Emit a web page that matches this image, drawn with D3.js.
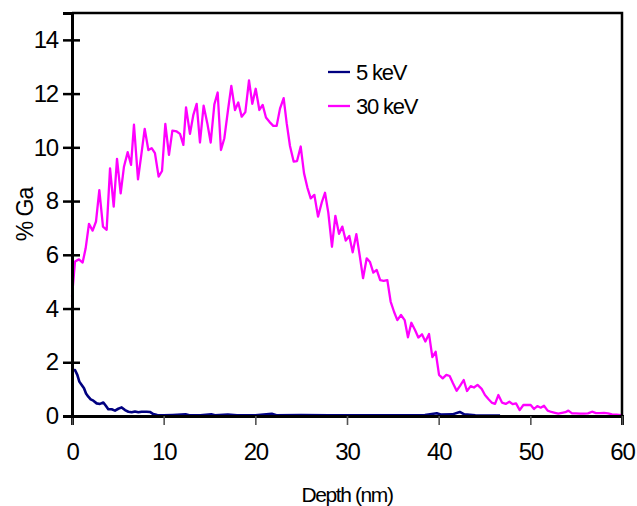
<!DOCTYPE html>
<html>
<head>
<meta charset="utf-8">
<script src="https://cdn.jsdelivr.net/npm/d3@7"></script>
<style>
  body { margin: 0; background: #fff; }
  svg text { font-family: "Liberation Sans", Arial, sans-serif; fill: #000; }
</style>
</head>
<body>
<svg id="chart"></svg>
<script>
// tick values
const xTicks = [0, 10, 20, 30, 40, 50, 60]
const yTicks = [0, 2, 4, 6, 8, 10, 12, 14]
const seriesNames = ["5 keV", "30 keV"]
const seriesColors = ["#000080", "#ff00ff"]

// 5 keV profile [depth nm, % Ga]
const ga5 = [
  [0.07, 1.69], [0.33, 1.71], [0.58, 1.53], [0.8, 1.28], [1.06, 1.15], [1.31, 1.03],
  [1.53, 0.84], [1.78, 0.72], [2.04, 0.62], [2.33, 0.57], [2.69, 0.47], [3.05, 0.45],
  [3.42, 0.5], [3.71, 0.37], [3.96, 0.25], [4.33, 0.25], [4.69, 0.2], [5.05, 0.27],
  [5.42, 0.32], [5.78, 0.22], [6.15, 0.16], [6.51, 0.14], [6.87, 0.17], [7.24, 0.14],
  [7.6, 0.16], [8.15, 0.16], [8.5, 0.15], [8.87, 0.07], [9.3, 0.04], [10, 0.03],
  [11, 0.04], [12.4, 0.06], [12.8, 0.03], [14, 0.03], [15.2, 0.06], [15.6, 0.03],
  [17, 0.05], [18, 0.03], [20, 0.03], [21.8, 0.08], [22.3, 0.03], [25, 0.04],
  [28, 0.03], [31, 0.03], [34, 0.03], [37, 0.03], [38.5, 0.04], [39.8, 0.1],
  [40.3, 0.05], [41.5, 0.06], [42.3, 0.15], [42.8, 0.06], [44, 0.03], [45.5, 0.02],
  [46.7, 0.02]
]

// 30 keV profile [depth nm, % Ga]
const ga30 = [
  [0, 4.44], [0.33, 5.75], [0.76, 5.83], [1.16, 5.71], [1.49, 6.24], [1.85, 7.15],
  [2.25, 6.9], [2.62, 7.24], [2.98, 8.41], [3.38, 7.05], [3.78, 6.93], [4.15, 9.22],
  [4.55, 7.79], [4.91, 9.57], [5.31, 8.29], [5.67, 9.28], [6.07, 9.82], [6.44, 9.35],
  [6.76, 10.84], [7.2, 8.81], [7.56, 9.72], [7.93, 10.69], [8.33, 9.9], [8.69, 9.97],
  [9.05, 9.78], [9.45, 8.91], [9.82, 9.12], [10.18, 10.87], [10.58, 9.72], [10.95, 10.62],
  [11.42, 10.59], [11.78, 10.5], [12.15, 10.09], [12.44, 11.49], [12.87, 10.5], [13.24, 11.21],
  [13.6, 11.62], [13.96, 10.18], [14.36, 11.55], [14.76, 10.9], [15.13, 10.18], [15.53, 11.6],
  [15.89, 12.04], [16.25, 9.9], [16.62, 10.34], [17.02, 11.39], [17.38, 12.29], [17.78, 11.39],
  [18.14, 11.67], [18.51, 11.14], [18.91, 11.31], [19.31, 12.49], [19.67, 11.62], [20.04, 12.18],
  [20.44, 11.39], [20.8, 11.58], [21.16, 11.11], [21.56, 10.94], [21.96, 10.8], [22.33, 10.8],
  [22.69, 11.44], [23.09, 11.83], [23.42, 10.9], [23.78, 10.05], [24.18, 9.47], [24.55, 9.49],
  [24.95, 10.03], [25.31, 9.04], [25.67, 8.51], [26.04, 8.1], [26.44, 8.23], [26.84, 7.42],
  [27.24, 7.94], [27.6, 8.31], [27.96, 7.57], [28.36, 6.3], [28.73, 7.45], [29.13, 6.78],
  [29.49, 7.05], [29.86, 6.53], [30.25, 6.7], [30.62, 6.09], [31.02, 6.77], [31.38, 5.99],
  [31.75, 5.13], [32.15, 5.87], [32.51, 5.73], [32.87, 5.34], [33.24, 5.44], [33.62, 5.06],
  [34.0, 5.03], [34.4, 5.06], [34.76, 4.26], [35.13, 3.88], [35.49, 3.57], [35.89, 3.76],
  [36.29, 3.57], [36.65, 2.93], [37.02, 3.47], [37.42, 3.2], [37.78, 2.92], [38.18, 3.04],
  [38.55, 2.77], [38.95, 3.05], [39.31, 2.19], [39.67, 2.39], [40.04, 1.53], [40.44, 1.4],
  [40.84, 1.53], [41.2, 1.49], [41.56, 1.22], [41.96, 0.94], [42.33, 1.12], [42.73, 1.34],
  [43.09, 0.93], [43.49, 1.11], [43.85, 1.06], [44.24, 1.16], [44.69, 1.01], [45.05, 0.78],
  [45.42, 0.63], [45.78, 0.5], [46.15, 0.45], [46.51, 0.78], [46.91, 0.5], [47.31, 0.45],
  [47.71, 0.53], [48.07, 0.44], [48.44, 0.47], [48.84, 0.22], [49.24, 0.41], [49.64, 0.41],
  [50.04, 0.41], [50.4, 0.26], [50.76, 0.37], [51.13, 0.31], [51.49, 0.38], [51.89, 0.2],
  [52.29, 0.15], [52.69, 0.12], [53.05, 0.09], [53.45, 0.12], [53.82, 0.14], [54.15, 0.2],
  [54.55, 0.1], [54.98, 0.1], [55.42, 0.09], [55.85, 0.09], [56.29, 0.1], [56.73, 0.16],
  [57.16, 0.11], [57.6, 0.11], [58.04, 0.12], [58.47, 0.1], [58.91, 0.06], [59.42, 0.05],
  [59.89, 0.03]
]

const W = 637, H = 506
const margin = { top: 13, right: 15, bottom: 90, left: 72 }
const width = W - margin.left - margin.right
const height = H - margin.top - margin.bottom

const svg = d3.select("#chart").attr("width", W).attr("height", H)
const g = svg.append("g").attr("transform", `translate(${margin.left},${margin.top})`)

const x = d3.scaleLinear().domain([0, 60]).range([0, width])
const y = d3.scaleLinear().domain([0, 15]).range([height, 0])

// data lines
const line = d3.line().x(d => x(d[0])).y(d => y(d[1]))
const series = [ga5, ga30]
series.forEach((s, i) => {
  g.append("path")
    .datum(s)
    .attr("fill", "none")
    .attr("stroke", seriesColors[i])
    .attr("stroke-width", i == 0 ? 2.6 : 2.3)
    .attr("stroke-linejoin", "round")
    .attr("d", line)
})

// plot frame (top and right)
g.append("path")
  .attr("d", `M0,0H${width}V${height}`)
  .attr("fill", "none")
  .attr("stroke", "#000")
  .attr("stroke-width", 2.5)

// x axis
const xAxis = g.append("g")
  .attr("transform", `translate(0,${height})`)
  .call(d3.axisBottom(x).tickValues(xTicks).tickSize(9).tickPadding(18).tickFormat(d3.format("d")))
xAxis.select(".domain").attr("stroke", "#000").attr("stroke-width", 3)
xAxis.selectAll(".tick line").attr("stroke", "#555").attr("stroke-width", 1.6)
xAxis.selectAll("text").attr("font-size", 24).attr("letter-spacing", -1.2)

// y axis with ticks crossing the axis
const yAxis = g.append("g")
  .call(d3.axisLeft(y).tickValues(yTicks).tickSize(9).tickPadding(5).tickFormat(d3.format("d")))
yAxis.select(".domain").attr("stroke", "#000").attr("stroke-width", 3)
yAxis.selectAll(".tick line").attr("x1", 8).attr("stroke", "#000").attr("stroke-width", 2.5)
yAxis.selectAll("text").attr("font-size", 24).attr("letter-spacing", -1.2)

// axis titles
svg.append("text")
  .attr("x", margin.left + width / 2)
  .attr("y", 502)
  .attr("text-anchor", "middle")
  .attr("font-size", 21)
  .attr("letter-spacing", -1.4)
  .text("Depth (nm)")

svg.append("text")
  .attr("transform", `translate(33,${margin.top + y(7.5)}) rotate(-90)`)
  .attr("text-anchor", "middle")
  .attr("font-size", 23)
  .attr("letter-spacing", -1)
  .text("% Ga")

// legend
const legend = svg.append("g").attr("transform", "translate(328,72)")
seriesNames.forEach((n, i) => {
  const row = legend.append("g").attr("transform", `translate(0,${i * 34})`)
  row.append("line").attr("x1", 0).attr("x2", 22)
    .attr("stroke", seriesColors[i]).attr("stroke-width", 2.3)
  row.append("text").attr("x", 28).attr("y", 8)
    .attr("font-size", 22).attr("letter-spacing", -1.2)
    .text(n)
})
</script>
</body>
</html>
